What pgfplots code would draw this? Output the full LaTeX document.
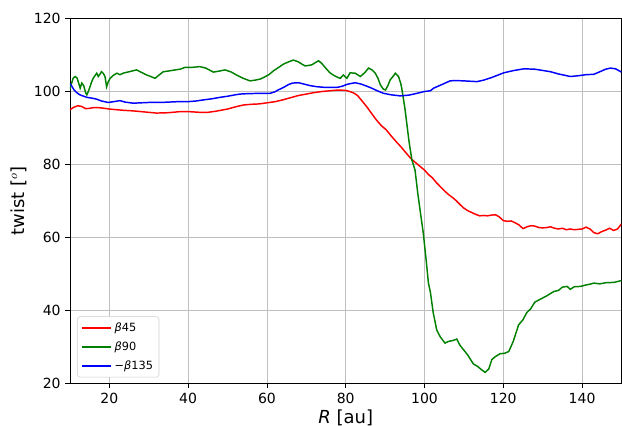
\documentclass[border=0pt]{standalone}
\usepackage{fontspec}
\setmainfont{DejaVu Sans}
\usepackage{pgfplots}
\pgfplotsset{compat=1.18}
\usetikzlibrary{calc}

\definecolor{mplgreen}{RGB}{0,128,0}

\begin{document}
\begin{tikzpicture}
\begin{axis}[
    scale only axis,
    width=414pt,
    height=274.5pt,
    xmin=10, xmax=150,
    ymin=20, ymax=120,
    xtick={20,40,60,80,100,120,140},
    ytick={20,40,60,80,100,120},
    tick align=outside,
    tick pos=left,
    major tick length=3.5pt,
    tick style={black, line width=0.6pt},
    axis line style={line width=0.6pt},
    grid=major,
    grid style={gray!50, line width=0.6pt},
    /pgf/number format/assume math mode=true,
    tick label style={font=\fontsize{10.5}{12}\selectfont},
    xlabel={\textit{R} [au]},
    ylabel={twist [$^{o}$]},
    every axis x label/.style={at={(axis description cs:0.5,0)}, anchor=center, yshift=-25.5pt,
        font=\fontsize{13.5}{15}\selectfont},
    every axis y label/.style={at={(axis description cs:0,0.5)}, anchor=center, rotate=90, yshift=38.6pt,
        font=\fontsize{13.5}{15}\selectfont},
    legend style={at={(axis description cs:0.013,0.017)}, anchor=south west,
        font=\fontsize{8.5}{10}\selectfont, draw=gray!40, rounded corners=2pt,
        row sep=2.2pt, inner sep=2.5pt},
    legend cell align=left,
    legend image code/.code={\draw[#1, line width=1.5pt] (0pt,0pt) -- (22pt,0pt);},
    every axis plot/.append style={line width=1.1pt},
]
\addplot[red] coordinates {
(10,94.9)(11,95.6)(12,96.0)(13,95.8)(14,95.2)(15,95.3)(16,95.5)(17,95.5)(18,95.4)(20,95.1)
(23,94.8)(26,94.6)(29,94.3)(32,94.0)(35,94.1)(38,94.4)(40,94.4)(43,94.2)(45,94.2)(47,94.5)
(50,95.1)(52,95.7)(54,96.2)(56,96.4)(58,96.5)(60,96.8)(62,97.1)(64,97.6)(66,98.2)(68,98.8)
(70,99.2)(72,99.6)(74,99.9)(76,100.1)(78,100.3)(80,100.2)(81,99.9)(82,99.5)(83,98.8)(84,97.5)
(85.3,95.8)(86.5,94.0)(87.8,92.1)(89,90.6)(90.3,89.4)(91.5,87.8)(92.8,86.2)(94,84.8)(95,83.5)
(96.6,81.5)(98,80.2)(100,78.4)(101,77.2)(102,76.3)(103,75.0)(104,73.9)(105,72.8)(106,71.8)
(107,71.0)(108,70.1)(109,69.0)(110,68.0)(111,67.3)(112,66.8)(113,66.3)(114,65.9)(115,66.0)
(116,65.9)(117,66.1)(118,66.2)(119,65.6)(120,64.6)(121,64.4)(122,64.5)(123,64.0)(124,63.4)
(125,62.4)(126,62.9)(127,63.2)(128,63.1)(129,62.7)(130,62.6)(131,62.7)(132,62.9)(133,62.5)
(134,62.3)(135,62.5)(136,62.1)(137,62.3)(138,62.1)(139,62.2)(140,62.3)(141,62.8)(142,62.3)
(143,61.3)(144,61.0)(145,61.6)(146,62.0)(147,62.5)(148,61.9)(149,62.3)(150,63.7)
};
\addlegendentry{{\itshape β}45}
\addplot[mplgreen] coordinates {
(10,100.5)(10.3,101.7)(10.8,103.5)(11.3,104)(11.8,103.6)(12.1,102.6)(12.6,100.8)(13,102.2)
(13.5,101.5)(14,99.5)(14.3,99)(14.7,100)(15.1,101.2)(15.5,102.5)(15.9,103.5)(16.4,104.3)
(16.8,104.9)(17.2,104)(17.6,104.6)(18,105.3)(18.5,104.8)(18.9,104)(19.3,101.2)(19.7,102.5)
(20.2,103.5)(21,104.3)(21.9,104.9)(22.7,104.5)(23.5,104.9)(25,105.3)(26.9,105.8)(28,105.2)
(29.5,104.4)(30.5,104)(31.6,103.5)(32.5,104.3)(33.7,105.3)(35,105.5)(36.7,105.8)(38,106)
(39.2,106.5)(41,106.5)(43,106.7)(44.5,106.3)(46.4,105.2)(48,105.5)(49.4,105.8)(51,105.2)
(52.3,104.4)(54,103.5)(55.7,102.8)(57,103)(58.3,103.3)(59.1,103.7)(60.5,104.5)(61.6,105.5)
(63,106.5)(64.2,107.4)(65.5,108)(66.7,108.5)(68,108)(69,107.3)(69.7,106.9)(70.5,107)
(71.4,107.2)(72.3,107.8)(73.1,108.3)(73.9,107.6)(75,106.2)(76,105)(77,104.3)(78.1,103.7)
(78.6,103.5)(79.4,104.4)(80.3,103.5)(81.1,105)(82.4,104.9)(83.7,104)(84.8,105)(85.8,106.3)
(86.7,105.8)(87.5,104.9)(88.2,103.5)(88.8,101.7)(89.5,100.6)(90.1,100.3)(90.7,101.5)(91.3,103.1)
(92,104)(92.6,104.9)(93.4,104)(94,102)(94.3,100.3)(95,95.5)(95.5,91.2)(96.1,86)(96.8,81.2)
(97.6,78.4)(98.3,72)(99,66.5)(99.7,61.1)(100.4,54)(101,47.5)(101.5,45)(102.2,39.5)(103.1,34.7)
(104,32.8)(105.2,31.1)(106.2,31.6)(107.2,31.8)(108.2,32.2)(109,30.5)(109.9,29.3)(111,27.8)
(112.4,25.4)(113.5,24.7)(114.5,23.8)(115.4,23.1)(116.3,24)(117.1,26.6)(118,27.4)(119.2,28.2)
(120.3,28.3)(121.4,28.8)(122.5,31.5)(123.9,36.1)(125,37.5)(126,39.5)(126.9,40.4)(128,42.3)
(129.4,43.1)(131,44)(132.8,45.2)(134,45.5)(135,46.4)(136.2,46.6)(137,45.8)(138,46.5)
(139.6,46.6)(141,47)(142,47.2)(143,47.5)(144.5,47.3)(146,47.6)(148.1,47.7)(150,48.2)
};
\addlegendentry{{\itshape β}90}
\addplot[blue] coordinates {
(10,102)(10.5,101.3)(11,100.4)(11.7,99.6)(12.5,99)(13.5,98.6)(14.3,98.3)(15.5,98.1)(16.8,97.8)
(18,97.3)(19.7,96.9)(21,97.1)(22.7,97.4)(24,97)(26.1,96.7)(28,96.8)(30,96.9)(32.9,96.9)
(35,97)(37,97.1)(39.7,97.1)(42,97.3)(43.9,97.6)(46,97.9)(48.1,98.3)(50,98.6)(52,99)(53.2,99.2)
(55,99.3)(58.3,99.4)(60.8,99.4)(62,99.8)(63,100.4)(64.2,101)(65.5,101.8)(66.5,102.2)(68,102.3)
(69.5,101.9)(71,101.5)(72.7,101.2)(75,101)(77.7,101)(79,101.3)(80.5,101.9)(82.4,102.3)
(84,101.9)(86.2,101)(88,100.1)(89.6,99.4)(91.5,99)(93.8,98.7)(96,98.9)(98.1,99.4)(100,99.9)
(101.5,100.1)(102.3,100.8)(104,101.6)(106.5,102.8)(107.8,102.9)(110,102.8)(113.3,102.6)
(115,103)(117,103.7)(120.1,105)(122.5,105.6)(125.2,106.1)(128,106)(130.3,105.6)(132,105.3)
(134,104.7)(137,104)(139,104.2)(141,104.5)(143,104.6)(144.5,105.3)(146,106)(147.2,106.3)
(148.5,106.1)(150,105.2)
};
\addlegendentry{−{\itshape β}135}
\end{axis}
\pgfresetboundingbox
\path ($(current axis.south west)+(-52.5pt,-31.5pt)$) rectangle ($(current axis.north east)+(0.4pt,13.5pt)$);
\end{tikzpicture}
\end{document}
